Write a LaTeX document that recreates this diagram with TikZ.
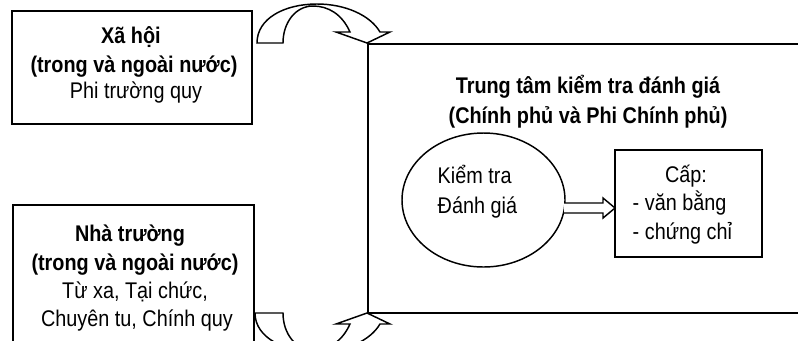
\documentclass[tikz,border=0pt]{standalone}
\usepackage{fontspec}
\setmainfont{Liberation Sans}[FakeStretch=0.875]
\usetikzlibrary{shapes.geometric,calc}
\begin{document}
\begin{tikzpicture}[x=0.75pt,y=-0.75pt,line width=1.1pt,line join=miter,
  bt/.style={font=\fontsize{17}{20}\selectfont\bfseries,inner sep=0pt},
  rt/.style={font=\fontsize{17}{20}\selectfont,inner sep=0pt},
  box/.style={draw,rectangle,inner sep=0pt,outer sep=0pt},
  oval/.style={draw,ellipse,inner sep=0pt,outer sep=0pt},
  barrow/.style={draw,fill=white}]
\clip (0,0) rectangle (798,340);
\fill[white] (0,0) rectangle (798,340);
% boxes
\node[box,minimum width=180pt,minimum height=84.75pt] (xh) at (132,67.5) {};
\node[box,minimum width=180.75pt,minimum height=116.25pt] (nt) at (133.5,282.5) {};
\node[box,minimum width=339pt,minimum height=201.75pt] (tt) at (594,178.5) {};
\node[oval,minimum width=122.25pt,minimum height=100.5pt] (ell) at (483.5,200) {};
\node[box,minimum width=110.25pt,minimum height=80.25pt] (cap) at (688.5,203.5) {};
% texts: top-left box
\node[bt,anchor=base] (xh1) at (131,43) {Xã hội};
\node[bt,anchor=base] (xh2) at (134,72) {(trong và ngoài nước)};
\node[rt,anchor=base] (xh3) at (136,98) {Phi trường quy};
% texts: bottom-left box
\node[bt,anchor=base] (nt1) at (130,241) {Nhà trường};
\node[bt,anchor=base] (nt2) at (135,270) {(trong và ngoài nước)};
\node[rt,anchor=base] (nt3) at (135,298) {Từ xa, Tại chức,};
\node[rt,anchor=base] (nt4) at (137,326) {Chuyên tu, Chính quy};
% texts: big box
\node[bt,anchor=base] (tt1) at (588,93) {Trung tâm kiểm tra đánh giá};
\node[bt,anchor=base] (tt2) at (588,123) {(Chính phủ và Phi Chính phủ)};
\node[rt,anchor=base west] (el1) at (437,183) {Kiểm tra};
\node[rt,anchor=base west] (el2) at (437,213) {Đánh giá};
\node[rt,anchor=base] (cp1) at (686,182) {Cấp:};
\node[rt,anchor=base west] (cp2) at (632,210) {- văn bằng};
\node[rt,anchor=base west] (cp3) at (632,239) {- chứng chỉ};
% hollow block arrow ellipse -> box
\coordinate (as) at ($(ell.east)+(-1,8)$);
\coordinate (ae) at ($(cap.west)+(0,4.5)$);
\draw[barrow] ($(as)+(0,-5)$) -- ($(ae)+(-12,-5)$) -- ($(ae)+(-12,-10)$) -- (ae)
  -- ($(ae)+(-12,10)$) -- ($(ae)+(-12,5)$) -- ($(as)+(0,5)$);
% curved arrow top: society -> centre
\draw[barrow] (257,43) .. controls (257,18) and (285,4) .. (317,4)
  .. controls (345,4) and (370,15) .. (380,32) -- (390,32) -- (367,43) -- (336,32) -- (350,32)
  .. controls (342,14) and (328,6) .. (313,6) .. controls (296,6) and (283,22) .. (283,43) -- cycle;
% curved arrow bottom: school -> centre
\draw[barrow] (255,313) .. controls (255,338) and (285,352) .. (317,352)
  .. controls (345,352) and (370,341) .. (380,324) -- (390,324) -- (367,313) -- (336,324) -- (350,324)
  .. controls (342,342) and (328,350) .. (313,350) .. controls (296,350) and (283,334) .. (283,313) -- cycle;
\end{tikzpicture}
\end{document}
